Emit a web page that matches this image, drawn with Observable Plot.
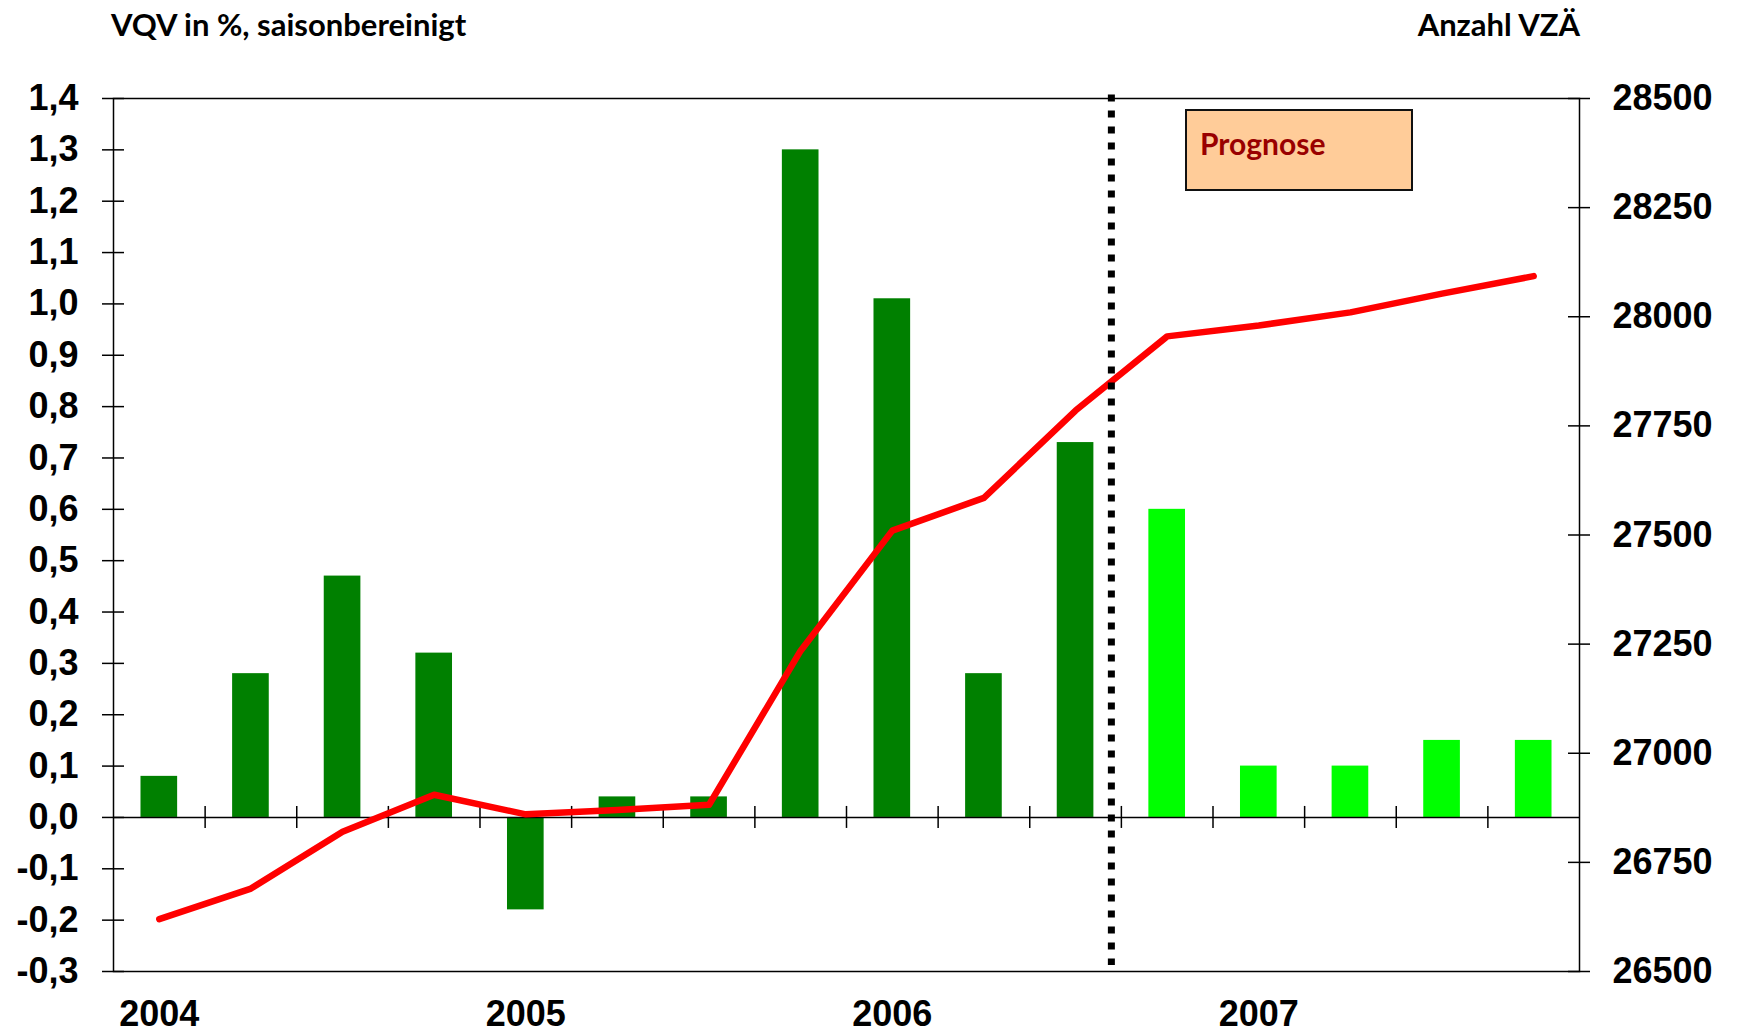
<!DOCTYPE html>
<html>
<head>
<meta charset="utf-8">
<script src="https://cdn.jsdelivr.net/npm/d3@7"></script>
<script src="https://cdn.jsdelivr.net/npm/@observablehq/plot@0.6"></script>
<style>
  body { margin: 0; background: #fff; }
  #chart { position: relative; width: 1738px; height: 1035px; overflow: hidden; }
  #chart svg { position: absolute; left: 0; top: 60px; }
  .kopf { position: absolute; top: 9px; font: bold 31px Lato, sans-serif; line-height: 30px; color: #000; white-space: nowrap; }
  #prognose {
    position: absolute; left: 1185px; top: 109px; width: 228px; height: 82px; box-sizing: border-box;
    background: #ffcc99; border: 2.5px solid #111;
    font: bold 30px Lato, sans-serif; line-height: 30px; color: #990000;
    padding: 17px 0 0 13px;
  }
</style>
</head>
<body>
<div id="chart">
  <div class="kopf" style="left:111px">VQV in %, saisonbereinigt</div>
  <div class="kopf" style="right:158px">Anzahl VZÄ</div>
</div>
<script>
// Quartale 2004-2007
const quartale = ["2004 Q1","2004 Q2","2004 Q3","2004 Q4","2005 Q1","2005 Q2","2005 Q3","2005 Q4",
                  "2006 Q1","2006 Q2","2006 Q3","2006 Q4","2007 Q1","2007 Q2","2007 Q3","2007 Q4"]
// Veränderung zum Vorquartal in %, saisonbereinigt (linke Achse)
const vqv = [0.08, 0.28, 0.47, 0.32, -0.18, 0.04, 0.04, 1.30, 1.01, 0.28, 0.73, 0.60, 0.10, 0.10, 0.15, 0.15]
const status = ["Ist","Ist","Ist","Ist","Ist","Ist","Ist","Ist","Ist","Ist","Ist",
                "Prognose","Prognose","Prognose","Prognose","Prognose"]
// Anzahl Vollzeitäquivalente (rechte Achse)
const vza = [26620, 26690, 26820, 26905, 26860, 26870, 26882, 27235, 27510, 27585, 27785, 27955, 27980, 28010, 28053, 28093]
const jahre = ["2004","2005","2006","2007"]
const vqvTicks = [-0.3,-0.2,-0.1,0,0.1,0.2,0.3,0.4,0.5,0.6,0.7,0.8,0.9,1.0,1.1,1.2,1.3,1.4]
const vzaTicks = [26500, 26750, 27000, 27250, 27500, 27750, 28000, 28250, 28500]

const W = 1738, H = 975
const mL = 113, mR = 159, mT = 38, mB = 64
const pw = W - mL - mR
const step = pw / quartale.length

const rows = quartale.map((q, i) => ({q, vqv: vqv[i], vza: vza[i], status: status[i]}))
const letzterIst = quartale[status.lastIndexOf("Ist")]

const xScale = {type: "band", domain: quartale, paddingInner: 0.6, paddingOuter: 0.3, round: false}
const stil = {fontFamily: "'Liberation Sans', Arial, sans-serif", fontSize: "36px", fontWeight: "bold",
              background: "transparent", overflow: "visible"}

// Balken + linke Achse
let links = Plot.plot({
  width: W, height: H, marginLeft: mL, marginRight: mR, marginTop: mT, marginBottom: mB,
  style: stil,
  x: {...xScale, label: null},
  y: {domain: [-0.3, 1.4], label: null},
  color: {domain: ["Ist", "Prognose"], range: ["#008000", "#00ff00"]},
  marks: [
    Plot.barY(rows, {x: "q", y: "vqv", fill: "status"}),
    Plot.ruleY([0], {stroke: "black", strokeWidth: 1.5}),
    Plot.ruleX(quartale.slice(0, -1), {y1: 0, y2: 0, dx: step / 2, insetTop: -11, insetBottom: -11, strokeWidth: 1.5}),
    Plot.ruleY(vqvTicks, {insetLeft: -11, insetRight: pw - 11, strokeWidth: 1.5}),
    Plot.frame({strokeWidth: 1.5}),
    Plot.axisY({ticks: vqvTicks, tickSize: 0, tickPadding: 35, label: null,
      tickFormat: d => d.toFixed(1).replace(".", ",")}),
    Plot.axisX({ticks: jahre.map(j => j + " Q1"), tickSize: 0, tickPadding: 29, label: null,
      tickFormat: q => q.slice(0, 4)})
  ]
})

// Linie + rechte Achse
let rechts = Plot.plot({
  width: W, height: H, marginLeft: mL, marginRight: mR, marginTop: mT, marginBottom: mB,
  style: stil,
  x: {...xScale, axis: null, label: null},
  y: {domain: [26500, 28500], label: null},
  marks: [
    Plot.line(rows, {x: "q", y: "vza", stroke: "#ff0000", strokeWidth: 6.5}),
    Plot.ruleX([letzterIst], {dx: step / 2 - 10, stroke: "black", strokeWidth: 7,
      strokeDasharray: "7,9", insetTop: -3.5, insetBottom: 6}),
    Plot.ruleY(vzaTicks, {insetLeft: pw - 11, insetRight: -11, strokeWidth: 1.5}),
    Plot.axisY({anchor: "right", ticks: vzaTicks, tickSize: 0, tickPadding: 33, label: null,
      tickFormat: d => String(d)})
  ]
})

const chart = d3.select("#chart")
chart.append(() => links)
chart.append(() => rechts)
chart.append("div").attr("id", "prognose").text("Prognose")
</script>
</body>
</html>
